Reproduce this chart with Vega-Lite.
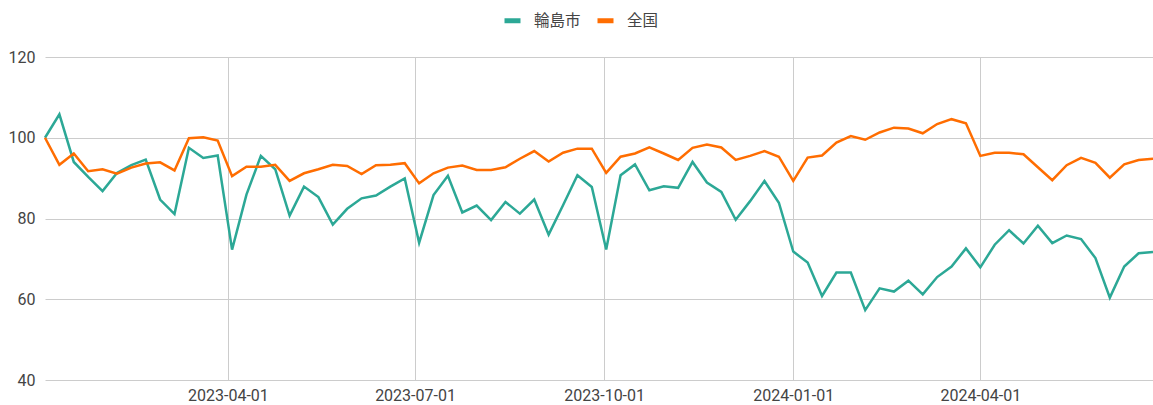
{
  "$schema": "https://vega.github.io/schema/vega-lite/v6.json",
  "width": 1108,
  "height": 323,
  "autosize": "none",
  "padding": {"left": 45, "top": 57, "right": 0, "bottom": 25},
  "background": "white",
  "config": {
    "view": {"stroke": null},
    "font": "Roboto",
    "axis": {"labelFont": "Roboto", "labelFontSize": 16, "labelColor": "#444444", "gridColor": "#cccccc", "gridWidth": 1, "domain": false, "ticks": false}
  },
  "data": {"values": [
    {"d":"2023-01-02","s":"輪島市","v":100},{"d":"2023-01-09","s":"輪島市","v":105.8},{"d":"2023-01-16","s":"輪島市","v":94.0},{"d":"2023-01-23","s":"輪島市","v":90.3},{"d":"2023-01-30","s":"輪島市","v":86.8},{"d":"2023-02-06","s":"輪島市","v":91.3},{"d":"2023-02-13","s":"輪島市","v":93.2},{"d":"2023-02-20","s":"輪島市","v":94.6},{"d":"2023-02-27","s":"輪島市","v":84.7},{"d":"2023-03-06","s":"輪島市","v":81.1},
    {"d":"2023-03-13","s":"輪島市","v":97.5},{"d":"2023-03-20","s":"輪島市","v":95.0},{"d":"2023-03-27","s":"輪島市","v":95.6},{"d":"2023-04-03","s":"輪島市","v":72.3},{"d":"2023-04-10","s":"輪島市","v":85.9},{"d":"2023-04-17","s":"輪島市","v":95.5},{"d":"2023-04-24","s":"輪島市","v":92.2},{"d":"2023-05-01","s":"輪島市","v":80.7},{"d":"2023-05-08","s":"輪島市","v":87.9},{"d":"2023-05-15","s":"輪島市","v":85.3},
    {"d":"2023-05-22","s":"輪島市","v":78.5},{"d":"2023-05-29","s":"輪島市","v":82.4},{"d":"2023-06-05","s":"輪島市","v":85.0},{"d":"2023-06-12","s":"輪島市","v":85.7},{"d":"2023-06-19","s":"輪島市","v":87.9},{"d":"2023-06-26","s":"輪島市","v":89.9},{"d":"2023-07-03","s":"輪島市","v":74.0},{"d":"2023-07-10","s":"輪島市","v":85.8},{"d":"2023-07-17","s":"輪島市","v":90.6},{"d":"2023-07-24","s":"輪島市","v":81.5},
    {"d":"2023-07-31","s":"輪島市","v":83.2},{"d":"2023-08-07","s":"輪島市","v":79.6},{"d":"2023-08-14","s":"輪島市","v":84.1},{"d":"2023-08-21","s":"輪島市","v":81.2},{"d":"2023-08-28","s":"輪島市","v":84.7},{"d":"2023-09-04","s":"輪島市","v":76.0},{"d":"2023-09-11","s":"輪島市","v":83.3},{"d":"2023-09-18","s":"輪島市","v":90.7},{"d":"2023-09-25","s":"輪島市","v":87.8},{"d":"2023-10-02","s":"輪島市","v":72.3},
    {"d":"2023-10-09","s":"輪島市","v":90.7},{"d":"2023-10-16","s":"輪島市","v":93.4},{"d":"2023-10-23","s":"輪島市","v":87.0},{"d":"2023-10-30","s":"輪島市","v":88.0},{"d":"2023-11-06","s":"輪島市","v":87.6},{"d":"2023-11-13","s":"輪島市","v":94.0},{"d":"2023-11-20","s":"輪島市","v":88.9},{"d":"2023-11-27","s":"輪島市","v":86.6},{"d":"2023-12-04","s":"輪島市","v":79.7},{"d":"2023-12-11","s":"輪島市","v":84.3},
    {"d":"2023-12-18","s":"輪島市","v":89.3},{"d":"2023-12-25","s":"輪島市","v":83.9},{"d":"2024-01-01","s":"輪島市","v":71.8},{"d":"2024-01-08","s":"輪島市","v":69.1},{"d":"2024-01-15","s":"輪島市","v":60.8},{"d":"2024-01-22","s":"輪島市","v":66.6},{"d":"2024-01-29","s":"輪島市","v":66.6},{"d":"2024-02-05","s":"輪島市","v":57.3},{"d":"2024-02-12","s":"輪島市","v":62.7},{"d":"2024-02-19","s":"輪島市","v":61.9},
    {"d":"2024-02-26","s":"輪島市","v":64.6},{"d":"2024-03-04","s":"輪島市","v":61.2},{"d":"2024-03-11","s":"輪島市","v":65.5},{"d":"2024-03-18","s":"輪島市","v":68.1},{"d":"2024-03-25","s":"輪島市","v":72.6},{"d":"2024-04-01","s":"輪島市","v":67.9},{"d":"2024-04-08","s":"輪島市","v":73.5},{"d":"2024-04-15","s":"輪島市","v":77.1},{"d":"2024-04-22","s":"輪島市","v":73.8},{"d":"2024-04-29","s":"輪島市","v":78.2},
    {"d":"2024-05-06","s":"輪島市","v":73.9},{"d":"2024-05-13","s":"輪島市","v":75.8},{"d":"2024-05-20","s":"輪島市","v":74.9},{"d":"2024-05-27","s":"輪島市","v":70.2},{"d":"2024-06-03","s":"輪島市","v":60.4},{"d":"2024-06-10","s":"輪島市","v":68.1},{"d":"2024-06-17","s":"輪島市","v":71.4},{"d":"2024-06-24","s":"輪島市","v":71.7},
    {"d":"2023-01-02","s":"全国","v":100},{"d":"2023-01-09","s":"全国","v":93.3},{"d":"2023-01-16","s":"全国","v":96.1},{"d":"2023-01-23","s":"全国","v":91.7},{"d":"2023-01-30","s":"全国","v":92.2},{"d":"2023-02-06","s":"全国","v":91.1},{"d":"2023-02-13","s":"全国","v":92.6},{"d":"2023-02-20","s":"全国","v":93.6},{"d":"2023-02-27","s":"全国","v":93.9},{"d":"2023-03-06","s":"全国","v":91.9},
    {"d":"2023-03-13","s":"全国","v":99.9},{"d":"2023-03-20","s":"全国","v":100.1},{"d":"2023-03-27","s":"全国","v":99.3},{"d":"2023-04-03","s":"全国","v":90.5},{"d":"2023-04-10","s":"全国","v":92.8},{"d":"2023-04-17","s":"全国","v":92.8},{"d":"2023-04-24","s":"全国","v":93.3},{"d":"2023-05-01","s":"全国","v":89.3},{"d":"2023-05-08","s":"全国","v":91.2},{"d":"2023-05-15","s":"全国","v":92.2},
    {"d":"2023-05-22","s":"全国","v":93.3},{"d":"2023-05-29","s":"全国","v":93.0},{"d":"2023-06-05","s":"全国","v":91.0},{"d":"2023-06-12","s":"全国","v":93.2},{"d":"2023-06-19","s":"全国","v":93.3},{"d":"2023-06-26","s":"全国","v":93.7},{"d":"2023-07-03","s":"全国","v":88.7},{"d":"2023-07-10","s":"全国","v":91.2},{"d":"2023-07-17","s":"全国","v":92.6},{"d":"2023-07-24","s":"全国","v":93.1},
    {"d":"2023-07-31","s":"全国","v":92.0},{"d":"2023-08-07","s":"全国","v":92.0},{"d":"2023-08-14","s":"全国","v":92.7},{"d":"2023-08-21","s":"全国","v":94.8},{"d":"2023-08-28","s":"全国","v":96.7},{"d":"2023-09-04","s":"全国","v":94.1},{"d":"2023-09-11","s":"全国","v":96.3},{"d":"2023-09-18","s":"全国","v":97.3},{"d":"2023-09-25","s":"全国","v":97.3},{"d":"2023-10-02","s":"全国","v":91.3},
    {"d":"2023-10-09","s":"全国","v":95.3},{"d":"2023-10-16","s":"全国","v":96.1},{"d":"2023-10-23","s":"全国","v":97.6},{"d":"2023-10-30","s":"全国","v":96.1},{"d":"2023-11-06","s":"全国","v":94.5},{"d":"2023-11-13","s":"全国","v":97.5},{"d":"2023-11-20","s":"全国","v":98.3},{"d":"2023-11-27","s":"全国","v":97.6},{"d":"2023-12-04","s":"全国","v":94.5},{"d":"2023-12-11","s":"全国","v":95.5},
    {"d":"2023-12-18","s":"全国","v":96.7},{"d":"2023-12-25","s":"全国","v":95.3},{"d":"2024-01-01","s":"全国","v":89.3},{"d":"2024-01-08","s":"全国","v":95.1},{"d":"2024-01-15","s":"全国","v":95.6},{"d":"2024-01-22","s":"全国","v":98.8},{"d":"2024-01-29","s":"全国","v":100.4},{"d":"2024-02-05","s":"全国","v":99.5},{"d":"2024-02-12","s":"全国","v":101.3},{"d":"2024-02-19","s":"全国","v":102.5},
    {"d":"2024-02-26","s":"全国","v":102.3},{"d":"2024-03-04","s":"全国","v":101.1},{"d":"2024-03-11","s":"全国","v":103.4},{"d":"2024-03-18","s":"全国","v":104.6},{"d":"2024-03-25","s":"全国","v":103.6},{"d":"2024-04-01","s":"全国","v":95.5},{"d":"2024-04-08","s":"全国","v":96.3},{"d":"2024-04-15","s":"全国","v":96.3},{"d":"2024-04-22","s":"全国","v":95.9},{"d":"2024-04-29","s":"全国","v":92.7},
    {"d":"2024-05-06","s":"全国","v":89.5},{"d":"2024-05-13","s":"全国","v":93.2},{"d":"2024-05-20","s":"全国","v":95.0},{"d":"2024-05-27","s":"全国","v":93.8},{"d":"2024-06-03","s":"全国","v":90.1},{"d":"2024-06-10","s":"全国","v":93.4},{"d":"2024-06-17","s":"全国","v":94.5},{"d":"2024-06-24","s":"全国","v":94.8}
  ]},
  "mark": {"type": "line", "strokeWidth": 2.5, "strokeJoin": "miter", "clip": false},
  "encoding": {
    "x": {
      "field": "d", "type": "temporal", "title": null,
      "scale": {"type": "utc", "domain": [{"year": 2023, "month": 1, "date": 2, "utc": true}, {"year": 2024, "month": 6, "date": 24, "utc": true}], "nice": false},
      "axis": {
        "values": [
          {"year": 2023, "month": 4, "date": 1, "utc": true},
          {"year": 2023, "month": 7, "date": 1, "utc": true},
          {"year": 2023, "month": 10, "date": 1, "utc": true},
          {"year": 2024, "month": 1, "date": 1, "utc": true},
          {"year": 2024, "month": 4, "date": 1, "utc": true}
        ],
        "labelExpr": "utcFormat(datum.value, '%Y-%m-%d')", "labelPadding": 7, "labelFlush": false
      }
    },
    "y": {
      "field": "v", "type": "quantitative", "title": null,
      "scale": {"domain": [40, 120], "nice": false, "zero": false},
      "axis": {"values": [40, 60, 80, 100, 120], "labelPadding": 10}
    },
    "color": {
      "field": "s", "type": "nominal", "title": null,
      "scale": {"domain": ["輪島市", "全国"], "range": ["#2ca896", "#ff6d01"]},
      "legend": {
        "orient": "none", "legendX": 457, "legendY": -47, "direction": "horizontal",
        "symbolType": "stroke", "symbolStrokeWidth": 5, "symbolSize": 256,
        "labelFont": "Noto Sans CJK JP", "labelFontSize": 15.5, "labelColor": "#444444",
        "labelOffset": 11, "columnPadding": 6
      }
    }
  }
}
